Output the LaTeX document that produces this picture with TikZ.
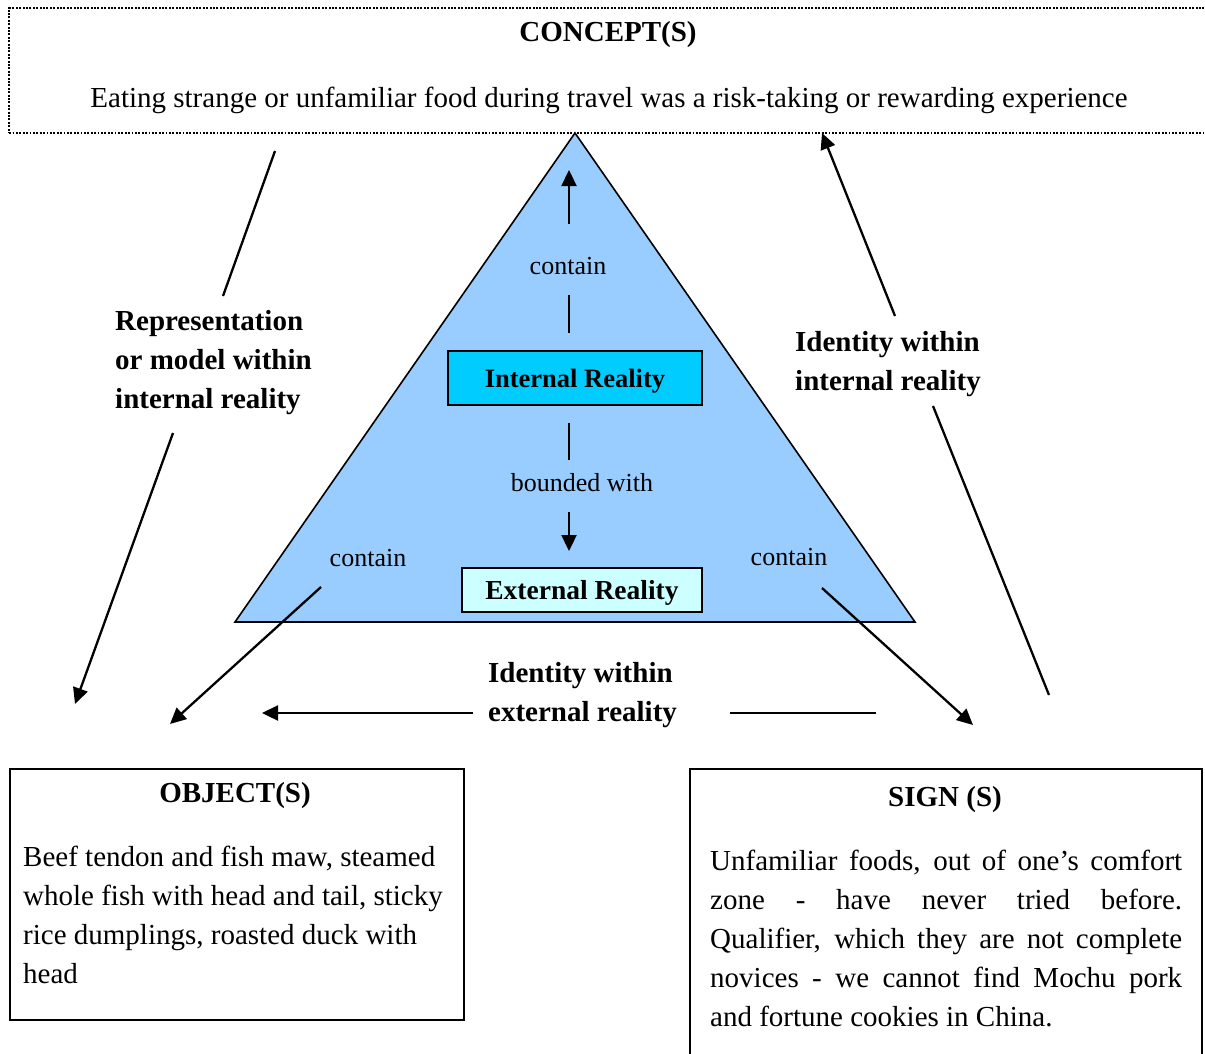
\documentclass[tikz,border=0pt]{standalone}
\usepackage{fontspec}
\setmainfont{Liberation Serif}
\usetikzlibrary{arrows.meta}
\definecolor{trifill}{HTML}{99CCFF}
\definecolor{intfill}{HTML}{00CCFF}
\definecolor{extfill}{HTML}{CCFFFF}
\begin{document}
\begin{tikzpicture}[x=1pt,y=-1pt,
  txt/.style={font=\fontsize{29}{39}\selectfont, inner sep=0pt},
  txtb/.style={font=\fontsize{29}{39}\selectfont\bfseries, inner sep=0pt},
  lbl/.style={font=\fontsize{26}{32}\selectfont, inner sep=0pt},
  panel/.style={draw, line width=1.5pt, anchor=north west, inner sep=0pt},
  conn/.style={line width=2.3pt},
  arr/.style={conn, -{Triangle[length=16pt,width=15pt]}},
]
\useasboundingbox (0,0) rectangle (1205,1053);

% concept panel (dotted frame running off the right edge)
\node[panel, line width=2.2pt, dash pattern=on 1.9pt off 1.5pt, minimum width=1210pt, minimum height=125pt] (concept) at (8,7) {};
\node[txtb] (concepttitle) at (608,35) {CONCEPT(S)};
\node[txt] (concepttext) at (609,100) {Eating strange or unfamiliar food during travel was a risk-taking or rewarding experience};

% triangle of realities
\coordinate (apex) at (575,133);
\coordinate (bl) at (235,622);
\coordinate (br) at (915,622);
\draw[fill=trifill, line width=1.6pt] (apex) -- (bl) -- (br) -- cycle;

\node[draw, line width=1.6pt, fill=intfill, minimum width=254pt, minimum height=54pt, inner sep=0pt, text depth=0pt, font=\fontsize{26.5}{32}\selectfont\bfseries] (internal) at (575,378) {Internal Reality};
\node[draw, line width=1.6pt, fill=extfill, minimum width=240pt, minimum height=44pt, inner sep=0pt, text depth=0pt, font=\fontsize{27.5}{32}\selectfont\bfseries] (external) at (582,590) {External Reality};

\node[lbl] (containtop) at (568,266) {contain};
\node[lbl] (bounded) at (582,483) {bounded with};
\node[lbl] (containleft) at (368,558) {contain};
\node[lbl] (containright) at (789,557) {contain};

% vertical links inside the triangle
\coordinate (u1) at (569,224); \coordinate (u2) at (569,170);
\coordinate (v1) at (569,295); \coordinate (v2) at (569,333);
\coordinate (w1) at (569,423); \coordinate (w2) at (569,460);
\coordinate (d1) at (569,512); \coordinate (d2) at (569,551);
\draw[arr] (u1) -- (u2);
\draw[conn] (v1) -- (v2);
\draw[conn] (w1) -- (w2);
\draw[arr] (d1) -- (d2);

% contain arrows to the bottom corners
\coordinate (cl1) at (321,587); \coordinate (cl2) at (170,724);
\coordinate (cr1) at (822,588); \coordinate (cr2) at (973,725);
\draw[arr] (cl1) -- (cl2);
\draw[arr] (cr1) -- (cr2);

% left side: representation
\node[txtb, anchor=west, align=left] (repr) at (115,363) {Representation\\or model within\\internal reality};
\coordinate (rl1) at (275,151); \coordinate (rl2) at (223,296);
\coordinate (rl3) at (173,433); \coordinate (rl4) at (75,704);
\draw[conn] (rl1) -- (rl2);
\draw[arr] (rl3) -- (rl4);

% right side: identity within internal reality
\node[txtb, anchor=west, align=left] (idint) at (795,364) {Identity within\\internal reality};
\coordinate (ri1) at (1049,695); \coordinate (ri2) at (933,406);
\coordinate (ri3) at (895,316); \coordinate (ri4) at (822,133);
\draw[conn] (ri1) -- (ri2);
\draw[arr] (ri3) -- (ri4);

% bottom: identity within external reality
\node[txtb, anchor=west, align=left] (idext) at (488,695) {Identity within\\external reality};
\coordinate (be1) at (473,713); \coordinate (be2) at (262,713);
\coordinate (be3) at (730,713); \coordinate (be4) at (876,713);
\draw[arr] (be1) -- (be2);
\draw[conn] (be3) -- (be4);

% object panel
\node[panel, minimum width=454pt, minimum height=251pt] (object) at (9,768) {};
\node[txtb] (objecttitle) at (235,796) {OBJECT(S)};
\node[txt, anchor=north west, align=left] (objecttext) at (23,846) {Beef tendon and fish maw, steamed\\whole fish with head and tail, sticky\\rice dumplings, roasted duck with\\head};

% sign panel (runs off the bottom edge)
\node[panel, minimum width=512pt, minimum height=300pt] (sign) at (689,768) {};
\node[txtb] (signtitle) at (945,800) {SIGN (S)};
\node[txt, anchor=north west, align=left] (signtext) at (710,850) {\makebox[472pt][s]{Unfamiliar foods, out of one’s comfort}\\\makebox[472pt][s]{zone - have never tried before.}\\\makebox[472pt][s]{Qualifier, which they are not complete}\\\makebox[472pt][s]{novices - we cannot find Mochu pork}\\and fortune cookies in China.};
\end{tikzpicture}
\end{document}
